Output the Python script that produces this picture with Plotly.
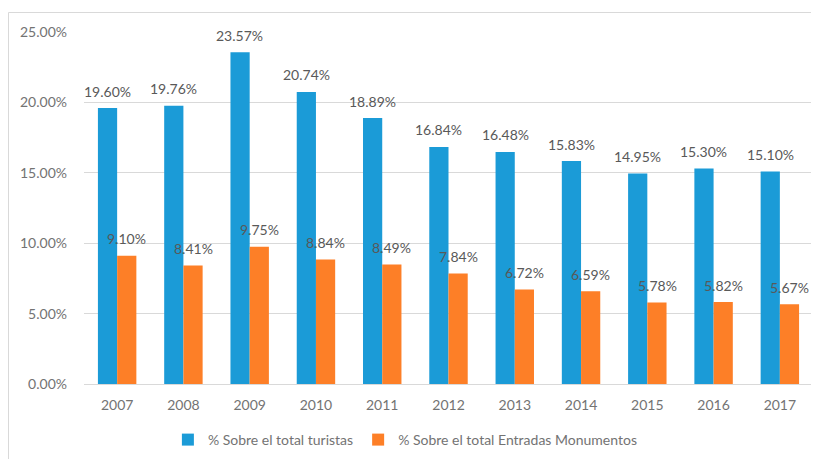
import plotly.graph_objects as go

years = ["2007", "2008", "2009", "2010", "2011", "2012", "2013", "2014", "2015", "2016", "2017"]
turistas = [19.60, 19.76, 23.57, 20.74, 18.89, 16.84, 16.48, 15.83, 14.95, 15.30, 15.10]
monumentos = [9.10, 8.41, 9.75, 8.84, 8.49, 7.84, 6.72, 6.59, 5.78, 5.82, 5.67]
name_t = "% Sobre el total turistas"
name_m = "% Sobre el total Entradas Monumentos"

blue = "#1B9BD7"
orange = "#FD7F27"
font_family = "Lato"
# the page puts the figure 8px from the top-left corner of the window
W, H = 811, 451
ml, mr, mt, mb = 76, 6, 24, 75

fig = go.Figure()
fig.add_trace(go.Bar(x=years, y=[v / 100 for v in turistas], name=name_t,
                     marker=dict(color=blue, line=dict(width=0))))
fig.add_trace(go.Bar(x=years, y=[v / 100 for v in monumentos], name=name_m,
                     marker=dict(color=orange, line=dict(width=0))))

bar_px = 19.4
for series, shift in ((turistas, -bar_px / 2), (monumentos, bar_px / 2)):
    for i, v in enumerate(series):
        fig.add_annotation(x=i, y=v / 100, text=f"{v:.2f}%", showarrow=False,
                           xshift=shift, yshift=17, yanchor="middle",
                           font=dict(family=font_family, size=14, color="#595959"))

pw = W - ml - mr
ph = H - mt - mb
fig.add_shape(type="rect", xref="paper", yref="paper",
              x0=(0.5 - ml) / pw, x1=1.2, y0=-0.5, y1=1 + (mt - 4.5) / ph,
              line=dict(color="#D9D9D9", width=1), fillcolor="rgba(0,0,0,0)", layer="below")

fig.update_layout(
    width=W, height=H,
    margin=dict(l=ml, r=mr, t=mt, b=mb),
    paper_bgcolor="white", plot_bgcolor="white",
    barmode="group", bargap=0.42, bargroupgap=0,
    font=dict(family=font_family, size=14, color="#737373"),
    showlegend=True,
    legend=dict(orientation="h", xref="container", yref="container",
                x=0.49, xanchor="center", y=(H - 432) / H, yanchor="middle",
                font=dict(family=font_family, size=14, color="#737373"),
                itemwidth=30, traceorder="normal"),
    xaxis=dict(type="category", range=[-0.5, len(years) - 0.5],
               showgrid=False, showline=True, linecolor="#D9D9D9", linewidth=1,
               ticks="", ticklabelstandoff=8,
               tickfont=dict(family=font_family, size=14, color="#737373")),
    yaxis=dict(range=[0, 0.25], dtick=0.05, tickformat=".2%",
               showgrid=True, gridcolor="#D9D9D9", gridwidth=1,
               zeroline=False, showline=False, ticks="", ticklabelstandoff=16,
               tickfont=dict(family=font_family, size=14, color="#737373")),
)

fig.write_html("out.html")
